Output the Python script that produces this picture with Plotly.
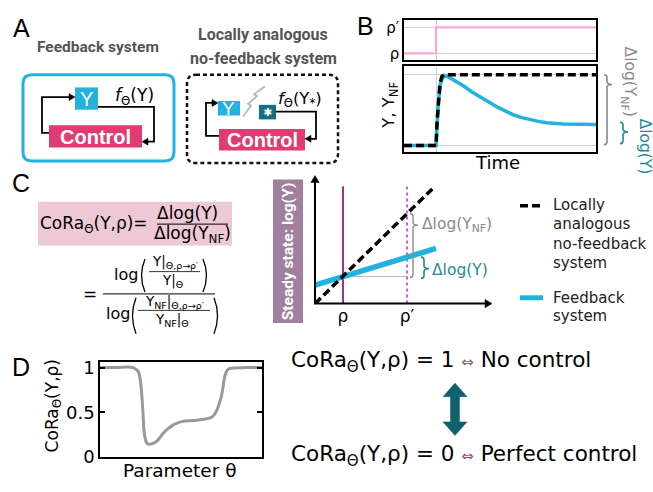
import plotly.graph_objects as go

W, H = 653, 492

# ---------------- data ----------------
# Panel B (top): input step rho -> rho'
b_rho_time = [0.0, 0.167, 1.0]
b_rho_level = [0, 1, 1]
b_rho_ticks = ["ρ", "ρ′"]

# Panel B (bottom): responses (log scale, 0 = initial steady state, 1 = NF final)
b_y_time = [0.0, 0.167, 0.172, 0.179, 0.191, 0.208, 0.231, 0.270, 0.309, 0.352, 0.396, 0.440,
            0.483, 0.527, 0.570, 0.613, 0.656, 0.700, 0.743, 0.786, 0.830, 0.915, 1.0]
b_y_value = [0.0, 0.0, 0.30, 0.616, 0.89, 0.99, 0.97, 0.91, 0.845, 0.76, 0.685, 0.61,
             0.548, 0.49, 0.434, 0.395, 0.365, 0.342, 0.324, 0.313, 0.306, 0.300, 0.297]
b_ynf_time = [0.0, 0.167, 0.172, 0.179, 0.187, 0.198, 0.212, 1.0]
b_ynf_value = [0.0, 0.0, 0.32, 0.64, 0.87, 0.98, 1.0, 1.0]

# Panel C: steady state log(Y) vs rho
c_rho_ticks = [0.16, 0.526]
c_rho_labels = ["ρ", "ρ′"]
c_nf_x = [0.0, 0.686]
c_nf_y = [0.0, 0.931]
c_fb_x = [0.0, 0.691]
c_fb_y = [0.146, 0.438]
c_vline_top = 0.931
c_base_level = 0.215

# Panel D: CoRa vs parameter theta
d_theta = [0.0, 0.10, 0.204, 0.235, 0.250, 0.257, 0.265, 0.272, 0.280, 0.288, 0.303, 0.319, 0.335,
           0.350, 0.370, 0.390, 0.420, 0.450, 0.480, 0.514, 0.555, 0.596, 0.640, 0.680, 0.700,
           0.720, 0.735, 0.750, 0.760, 0.770, 0.785, 0.800, 0.900, 1.0]
d_cora = [1.0, 1.0, 1.0, 0.957, 0.84, 0.717, 0.50, 0.283, 0.20, 0.155, 0.14, 0.145, 0.158,
          0.174, 0.215, 0.264, 0.315, 0.355, 0.38, 0.399, 0.405, 0.41, 0.42, 0.435, 0.46,
          0.518, 0.59, 0.682, 0.79, 0.899, 0.97, 0.99, 1.0, 1.0]
d_ticks = [0, 0.5, 1]
d_ticklabels = ["0", "0.5", "1"]

# ---------------- styling ----------------
SANS = "DejaVu Sans, Verdana, sans-serif"
ARIAL = "Liberation Sans, Arial, sans-serif"
NARROW = "Roboto, Liberation Sans, sans-serif"
CYAN = "#22B2E0"
PINK = "#E23A72"
TEAL = "#137080"
TEALTXT = "#1C8A9C"
LPINK = "#F5A8D8"
GREY = "#8a8a8a"

shapes = []
annotations = []


def X(x):
    return x / W


def Y(y):
    return 1 - y / H


def ann(text, x, y, size, color="#000", family=SANS, xanchor="center", yanchor="middle", angle=0):
    annotations.append(dict(text=text, x=X(x), y=Y(y), xref="paper", yref="paper", showarrow=False,
                            font=dict(size=size, color=color, family=family),
                            xanchor=xanchor, yanchor=yanchor, textangle=angle, borderpad=0))


def path(pts, color, width, dash=None, close=False, fill=None):
    d = "M " + " L ".join(f"{X(a):.5f},{Y(b):.5f}" for a, b in pts)
    if close:
        d += " Z"
    shapes.append(dict(type="path", path=d, xref="paper", yref="paper",
                       line=dict(color=color, width=width, dash=dash), fillcolor=fill, layer="above"))


def rawpath(cmds, color, width, dash=None, fill=None):
    out = []
    for letter, pts in cmds:
        out.append(letter + " " + " ".join(f"{X(a):.5f},{Y(b):.5f}" for a, b in pts))
    shapes.append(dict(type="path", path=" ".join(out), xref="paper", yref="paper",
                       line=dict(color=color, width=width, dash=dash), fillcolor=fill, layer="above"))


def rect(x0, y0, x1, y1, fill, line_color=None, width=0):
    shapes.append(dict(type="rect", x0=X(x0), x1=X(x1), y0=Y(y1), y1=Y(y0), xref="paper", yref="paper",
                       fillcolor=fill, line=dict(color=line_color or fill, width=width), layer="above"))


def rrect(x0, y0, x1, y1, r, color, width, dash=None):
    cmds = [("M", [(x0 + r, y0)]), ("L", [(x1 - r, y0)]), ("Q", [(x1, y0), (x1, y0 + r)]),
            ("L", [(x1, y1 - r)]), ("Q", [(x1, y1), (x1 - r, y1)]), ("L", [(x0 + r, y1)]),
            ("Q", [(x0, y1), (x0, y1 - r)]), ("L", [(x0, y0 + r)]), ("Q", [(x0, y0), (x0 + r, y0)])]
    rawpath(cmds, color, width, dash)


def head(x, y, direction, size=6, color="#000"):
    h, w = size, size * 0.6
    if direction == "right":
        pts = [(x, y), (x - h, y - w), (x - h, y + w)]
    elif direction == "left":
        pts = [(x, y), (x + h, y - w), (x + h, y + w)]
    else:  # up
        pts = [(x, y), (x - w, y + h), (x + w, y + h)]
    path(pts, color, 0.5, close=True, fill=color)


def brace(x, y0, y1, tip_y, depth, color, width):
    c = 3
    cmds = [("M", [(x - c, y0)]), ("Q", [(x, y0), (x, y0 + c)]), ("L", [(x, tip_y - c)]),
            ("Q", [(x, tip_y), (x + depth, tip_y)]), ("Q", [(x, tip_y), (x, tip_y + c)]),
            ("L", [(x, y1 - c)]), ("Q", [(x, y1), (x - c, y1)])]
    rawpath(cmds, color, width)


def paren(x, y0, y1, side, bulge=7):
    b = -bulge if side == "l" else bulge
    rawpath([("M", [(x, y0)]), ("Q", [(x + b, (y0 + y1) / 2), (x, y1)])], "#000", 1.3)


# ---------------- Panel A ----------------
ann("A", 21, 24, 25, family=ARIAL)
ann("<b>Feedback system</b>", 98, 43, 15.5, color="#555", family=NARROW)
ann("<b>Locally analogous</b>", 263, 30, 16, color="#555", family=NARROW)
ann("<b>no-feedback system</b>", 263, 55, 16, color="#555", family=NARROW)

rrect(23, 72, 174, 161, 9, CYAN, 3)
rect(75, 85, 98, 108, CYAN)
ann("Y", 86.5, 97, 20, color="white", family=ARIAL)
rect(49, 124, 142, 147, PINK)
ann("<b>Control</b>", 95.5, 136, 20, color="white", family=ARIAL)
path([(49, 132), (42, 132), (42, 95), (70, 95)], "#000", 1.8)
head(75, 95, "right")
path([(98, 105), (154, 105), (154, 141), (147, 141)], "#000", 1.8)
head(142, 141, "left")
ann("<i>f</i><sub>Θ</sub>(Y)", 134, 94, 17, family=SANS)

rrect(187, 72, 338, 163, 9, "#111", 2.5, dash="4px,3px")
rect(218, 99, 240, 114, CYAN)
ann("Y", 229, 106.5, 19, color="white", family=ARIAL)
path([(243, 115), (251, 104), (248, 102), (257, 94), (254, 92), (265, 84)], "#bdbdbd", 2)
rect(259, 103, 276, 118, TEAL)
ann("<b>✱</b>", 267.5, 110.5, 11, color="white", family=SANS)
rect(219, 128, 305, 150, PINK)
ann("<b>Control</b>", 262, 139, 20, color="white", family=ARIAL)
path([(219, 135), (206, 135), (206, 101), (213, 101)], "#000", 1.8)
head(218, 101, "right")
path([(276, 110), (316, 110), (316, 138), (310, 138)], "#000", 1.8)
head(305, 138, "left")
ann("<i>f</i><sub>Θ</sub>(Y<sub>*</sub>)", 300, 97, 16.5, family=SANS)

# ---------------- Panel B ----------------
ann("B", 365, 22, 25, family=ARIAL)
ann("Y, Y<sub>NF</sub>", 390, 104, 16.5, angle=-90)
ann("Time", 497, 162, 18)
brace(607, 72, 144, 82, 5, GREY, 1.6)
brace(623, 121, 143, 131, 5, TEALTXT, 1.6)
ann("Δlog(Y<sub>NF</sub>)", 629, 79, 15.5, color=GREY, angle=90)
ann("Δlog(Y)", 645, 146, 15.5, color=TEALTXT, angle=90)

# ---------------- Panel C ----------------
ann("C", 21, 184, 25, family=ARIAL)
rect(38, 203, 232, 248, "#EDC8D5")
ann("CoRa<sub>Θ</sub>(Y,ρ)=", 39, 226, 17, xanchor="left")
ann("Δlog(Y)", 187, 215, 17)
path([(157, 226), (228, 226)], "#000", 1)
ann("Δlog(Y<sub>NF</sub>)", 193, 237, 17)

ann("=", 90, 298, 17)
path([(103, 298), (215, 298)], "#000", 1)
ann("log", 126, 278, 16)
paren(145, 262, 296, "l")
paren(203, 262, 296, "r")
ann("Y|<sub>Θ,ρ→ρ′</sub>", 175, 265, 13.5)
path([(149, 275), (200, 275)], "#000", 0.8)
ann("Y|<sub>Θ</sub>", 172, 285, 13.5)
ann("log", 118, 318, 16)
paren(136, 302, 339, "l")
paren(214, 302, 339, "r")
ann("Y<sub>NF</sub>|<sub>Θ,ρ→ρ′</sub>", 174, 306, 13.5)
path([(138, 315), (210, 315)], "#000", 0.8)
ann("Y<sub>NF</sub>|<sub>Θ</sub>", 172, 325, 13.5)

rect(273, 180, 303, 328, "#A07F9F")
ann("<b>Steady state: log(Y)</b>", 288, 254, 15.5, color="white", family=NARROW, angle=-90)
path([(315, 308), (315, 182)], "#000", 2)
head(315, 176, "up", size=7)
path([(314, 308), (486, 308)], "#000", 2)
head(492, 308, "right", size=7)
brace(413, 215, 281, 227, 5, GREY, 1.4)
brace(424, 260, 282, 272, 5, TEALTXT, 1.6)
ann("Δlog(Y<sub>NF</sub>)", 421, 227, 15.5, color=GREY, xanchor="left")
ann("Δlog(Y)", 431, 273, 15.5, color=TEALTXT, xanchor="left")

path([(520, 207), (543, 207)], "#000", 3.5, dash="8px,4px")
for i, t in enumerate(["Locally", "analogous", "no-feedback", "system"]):
    ann(t, 552, 206 + 20 * i, 15, color="#222", xanchor="left")
path([(520, 302), (543, 302)], CYAN, 5)
ann("Feedback", 552, 302, 15, color="#222", xanchor="left")
ann("system", 552, 321, 15, color="#222", xanchor="left")

# ---------------- Panel D ----------------
ann("D", 21, 373, 25, family=ARIAL)
ann("CoRa<sub>Θ</sub>(Y,ρ)", 53, 414, 17, angle=-90)
ann("Parameter θ", 179, 480, 18.5)
ann("CoRa<sub>Θ</sub>(Y,ρ) = 1 <span style='color:#D04060;font-size:15px'>⇔</span> No control",
    290, 368, 21.5, xanchor="left")
ann("CoRa<sub>Θ</sub>(Y,ρ) = 0 <span style='color:#D04060;font-size:15px'>⇔</span> Perfect control",
    290, 465, 21.5, xanchor="left")
path([(455, 390), (467, 404), (459.5, 404), (459.5, 430), (467, 430), (455, 444), (443, 430),
      (450.5, 430), (450.5, 404), (443, 404)], "#11606E", 0.5, close=True, fill="#11606E")

# ---------------- traces ----------------
fig = go.Figure()
fig.add_trace(go.Scatter(x=b_rho_time, y=b_rho_level, mode="lines", line=dict(color=LPINK, width=2.2, shape="hv"),
                         xaxis="x", yaxis="y"))
fig.add_trace(go.Scatter(x=b_y_time, y=b_y_value, mode="lines", line=dict(color=CYAN, width=3.5),
                         xaxis="x2", yaxis="y2"))
fig.add_trace(go.Scatter(x=b_ynf_time, y=b_ynf_value, mode="lines", line=dict(color="#000", width=3.5, dash="8px,4px"),
                         xaxis="x2", yaxis="y2"))

fig.add_trace(go.Scatter(x=[c_rho_ticks[0], c_rho_ticks[1]], y=[c_base_level, c_base_level], mode="lines",
                         line=dict(color="#bbbbbb", width=1.2), xaxis="x3", yaxis="y3"))
fig.add_trace(go.Scatter(x=[c_rho_ticks[0]] * 2, y=[0, c_vline_top], mode="lines",
                         line=dict(color="#8E1E8C", width=1.8), xaxis="x3", yaxis="y3"))
fig.add_trace(go.Scatter(x=[c_rho_ticks[1]] * 2, y=[0, c_vline_top], mode="lines",
                         line=dict(color="#C42BB5", width=1.5, dash="dot"), xaxis="x3", yaxis="y3"))
fig.add_trace(go.Scatter(x=c_fb_x, y=c_fb_y, mode="lines", line=dict(color=CYAN, width=5.5),
                         xaxis="x3", yaxis="y3"))
fig.add_trace(go.Scatter(x=c_nf_x, y=c_nf_y, mode="lines", line=dict(color="#000", width=3.5, dash="8px,4px"),
                         xaxis="x3", yaxis="y3"))

fig.add_trace(go.Scatter(x=d_theta, y=d_cora, mode="lines", line=dict(color="#999999", width=3, shape="spline"),
                         xaxis="x4", yaxis="y4"))

box = dict(showline=True, mirror=True, linecolor="#000", linewidth=1.6, zeroline=False, fixedrange=True)
grid = dict(showgrid=True, gridcolor="#d2d2d2", gridwidth=1)

fig.update_layout(
    width=W, height=H, margin=dict(l=0, r=0, t=0, b=0), showlegend=False,
    paper_bgcolor="white", plot_bgcolor="rgba(0,0,0,0)",
    xaxis=dict(domain=[X(404), X(596)], range=[0, 1], anchor="y", tickvals=[0.167], showticklabels=False,
               ticks="", **grid, **box),
    yaxis=dict(domain=[Y(57), Y(15)], range=[-0.26, 1.30], anchor="x", tickvals=[0, 1], ticktext=b_rho_ticks,
               ticks="", tickfont=dict(size=15, family=SANS, color="#000"), **grid, **box),
    xaxis2=dict(domain=[X(404), X(596)], range=[0, 1], anchor="y2", tickvals=[0.167], showticklabels=False,
                ticks="", **grid, **box),
    yaxis2=dict(domain=[Y(152), Y(63)], range=[-0.096, 1.123], anchor="x2", tickvals=[0, 1], showticklabels=False,
                ticks="", **grid, **box),
    xaxis3=dict(domain=[X(315), X(490)], range=[0, 1], anchor="y3", tickvals=c_rho_ticks, ticktext=c_rho_labels,
                ticks="", showgrid=False, zeroline=False, showline=False,
                tickfont=dict(size=17, family=SANS, color="#000"), fixedrange=True),
    yaxis3=dict(domain=[Y(308), Y(178)], range=[0, 1], anchor="x3", showticklabels=False, ticks="",
                showgrid=False, zeroline=False, showline=False, fixedrange=True),
    xaxis4=dict(domain=[X(100), X(262)], range=[0, 1], anchor="y4", showticklabels=False, ticks="",
                showgrid=False, **box),
    yaxis4=dict(domain=[Y(466), Y(368)], range=[0, 1.065], anchor="x4", tickvals=d_ticks, ticktext=d_ticklabels,
                ticks="inside", ticklen=5, tickwidth=1.5, tickcolor="#000", showgrid=False,
                tickfont=dict(size=18, family=SANS, color="#000"),
                showline=True, mirror="ticks", linecolor="#000", linewidth=1.6, zeroline=False, fixedrange=True),
    shapes=shapes, annotations=annotations,
)

fig.write_html("out.html", config={"displayModeBar": False},
               post_script="document.body.style.margin='0';")
